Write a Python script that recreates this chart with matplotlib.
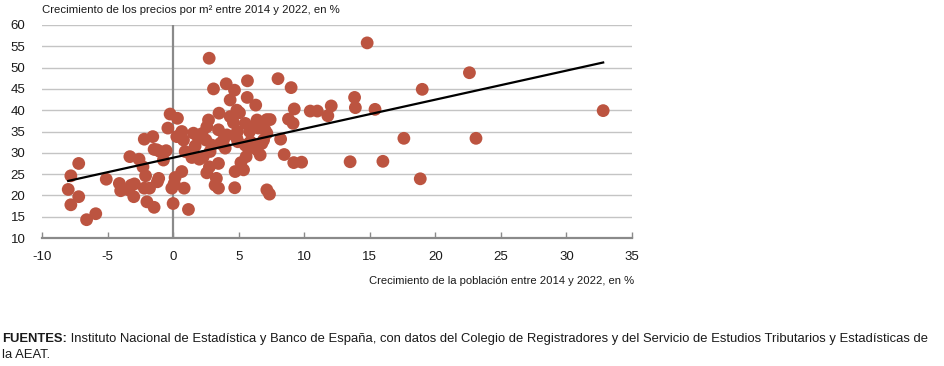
import matplotlib
matplotlib.use("Agg")
import matplotlib.pyplot as plt

# datos: crecimiento poblacion (x) y precios por m2 (y), 2014-2022, en %
pob = [-8.0, -7.8, -7.8, -7.2, -7.2, -6.6, -5.9, -5.1, -4.1, -4.0,
       -3.4, -3.3, -3.2, -3.0, -2.95, -2.6, -2.3, -2.2, -2.2, -2.1,
       -1.8, -2.0, -1.55, -1.45, -1.45, -1.1, -1.2, -1.0, -1.24, -0.74,
       -0.53, -0.4, -0.23, -0.1, 0.0, 0.08, 0.15, 0.28, 0.33, 0.66,
       0.66, 0.79, 0.84, 0.92, 1.17, 1.43, 1.55, 1.68, 1.93, 2.0,
       2.2, 2.3, 2.5, 2.57, 2.57, 2.7, 2.75, 2.77, 2.82, 2.95,
       3.08, 3.2, 3.3, 3.46, 3.46, 3.46, 3.5, 3.6, 3.84, 3.97,
       4.05, 4.1, 4.35, 4.35, 4.6, 4.68, 4.7, 4.73, 4.86, 4.86,
       4.9, 4.94, 5.06, 5.17, 5.37, 5.5, 5.5, 5.57, 5.65, 5.67,
       5.75, 5.83, 5.9, 6.1, 6.1, 6.3, 6.4, 6.4, 6.5, 6.6,
       6.64, 6.77, 6.9, 7.0, 7.15, 7.15, 7.15, 7.35, 7.4, 8.0,
       8.2, 8.47, 8.8, 9.0, 9.15, 9.2, 9.24, 9.8, 10.46, 11.0,
       11.8, 12.06, 13.5, 13.84, 13.9, 14.8, 15.4, 16.0, 17.6, 18.85,
       19.0, 22.6, 23.1, 32.8]
precios = [21.4, 24.6, 17.8, 27.5, 19.7, 14.3, 15.7, 23.8, 22.8, 21.1,
           21.3, 29.1, 22.4, 19.7, 22.7, 28.5, 26.7, 33.2, 21.7, 24.6,
           21.7, 18.5, 33.8, 17.2, 30.8, 24.0, 23.2, 30.3, 30.7, 28.3,
           30.5, 35.8, 39.1, 21.7, 18.1, 22.8, 24.2, 33.8, 38.1, 25.6,
           35.0, 33.0, 21.7, 30.3, 16.7, 28.9, 34.6, 31.6, 33.4, 28.5,
           34.5, 29.1, 33.0, 25.3, 36.1, 37.7, 52.2, 26.7, 30.3, 31.8,
           45.0, 22.4, 24.0, 35.4, 27.5, 21.7, 39.3, 32.2, 33.0, 31.1,
           46.2, 34.2, 42.4, 38.5, 37.1, 44.7, 21.8, 25.6, 40.0, 33.4,
           35.0, 32.6, 39.4, 27.7, 26.0, 36.9, 31.8, 29.1, 43.0, 46.9,
           31.1, 35.0, 32.6, 31.4, 36.1, 41.2, 30.7, 37.7, 35.8, 37.0,
           29.5, 32.2, 33.0, 35.4, 34.6, 21.3, 37.8, 20.3, 37.8, 47.4,
           33.2, 29.6, 37.9, 45.3, 36.9, 27.7, 40.3, 27.8, 39.8, 39.8,
           38.7, 41.0, 27.9, 43.0, 40.6, 55.8, 40.2, 28.0, 33.4, 23.9,
           44.9, 48.8, 33.4, 39.9]

# recta de tendencia (extremos)
tend_x = [-8.0, 32.8]
tend_y = [23.4, 51.2]

xticks = list(range(-10, 36, 5))
yticks = list(range(10, 61, 5))

titulo = "Crecimiento de los precios por m² entre 2014 y 2022, en %"
xlabel = "Crecimiento de la población entre 2014 y 2022, en %"
fuente_neg = "FUENTES:"
fuente = (" Instituto Nacional de Estadística y Banco de España, con datos del Colegio de "
          "Registradores y del Servicio de Estudios Tributarios y Estadísticas de")
fuente2 = "la AEAT."

plt.rcParams['font.family'] = ['Liberation Sans', 'DejaVu Sans']
plt.rcParams['axes.unicode_minus'] = False
txt = '#1a1a1a'

fig = plt.figure(figsize=(9.44, 3.66), dpi=100)
ax = fig.add_axes([0.0445, 0.3497, 0.625, 0.582])

for y in yticks[1:]:
    ax.axhline(y, color='#c4c4c4', lw=1.0, zorder=1)
ax.axvline(0, color='#8a8a8a', lw=1.6, zorder=1)

ax.scatter(pob, precios, s=85, color='#bc5440', edgecolors='none', zorder=3)
ax.plot(tend_x, tend_y, color='black', lw=1.6, zorder=4)

ax.set_xlim(-10, 35)
ax.set_ylim(10, 60)
ax.set_xticks(xticks)
ax.set_yticks(yticks)
for s in ['top', 'right', 'left']:
    ax.spines[s].set_visible(False)
ax.spines['bottom'].set_color('#8a8a8a')
ax.spines['bottom'].set_linewidth(1.6)
ax.tick_params(axis='x', direction='in', length=4, width=1, color='#8a8a8a',
               labelsize=9.5, labelcolor=txt, pad=9)
ax.tick_params(axis='y', length=0, labelsize=9.5, labelcolor=txt, pad=12)

fig.text(0.0445, 0.973, titulo, fontsize=8.2, color=txt, va='center', ha='left')
fig.text(0.6715, 0.231, xlabel, fontsize=8.1, color=txt, va='center', ha='right')

t1 = fig.text(0.002, 0.065, fuente_neg, fontsize=9.4, fontweight='bold', color=txt,
              va='baseline', ha='left')
ax.annotate(fuente, xy=(1, 0), xycoords=t1, va='bottom', ha='left', fontsize=9.4,
            color=txt, annotation_clip=False)
fig.text(0.002, 0.022, fuente2, fontsize=9.4, color=txt, va='baseline', ha='left')

fig.savefig("out.png", dpi=100)
